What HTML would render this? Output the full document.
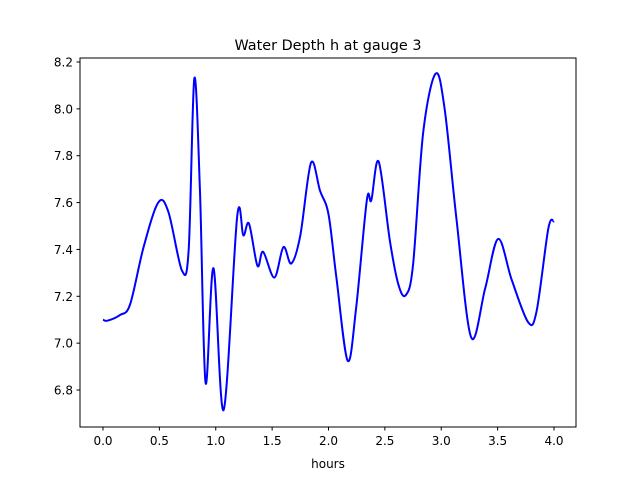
<!DOCTYPE html>
<html><head><meta charset="utf-8"><style>
body{margin:0;background:#fff;font-family:"Liberation Sans","DejaVu Sans",sans-serif;}
svg text{font-family:"DejaVu Sans","Liberation Sans",sans-serif;}
</style></head><body>
<svg id="chart" width="640" height="480" xmlns="http://www.w3.org/2000/svg">
<rect width="640" height="480" fill="#fff"/>
<text x="328" y="50" font-size="14.4" text-anchor="middle">Water Depth h at gauge 3</text>
<g id="xt"></g><g id="yt"></g>
<path id="line" fill="none" stroke="#0000ff" stroke-width="2" stroke-linejoin="round"/>
<rect x="80" y="58" width="496" height="369" fill="none" stroke="#000" stroke-width="1"/>
<text x="328" y="468" font-size="12" text-anchor="middle">hours</text>
</svg>
<script>
const hours=[0,0.04,0.15,0.24,0.36,0.49,0.58,0.70,0.76,0.81,0.86,0.91,0.98,1.07,1.19,1.245,1.295,1.37,1.42,1.52,1.60,1.67,1.75,1.845,1.925,2.0,2.07,2.17,2.245,2.34,2.38,2.445,2.545,2.62,2.685,2.75,2.84,2.95,3.03,3.135,3.265,3.39,3.505,3.625,3.77,3.845,3.95,4.0];
const depth=[7.10,7.096,7.12,7.165,7.41,7.60,7.56,7.31,7.40,8.13,7.65,6.83,7.32,6.715,7.54,7.46,7.51,7.33,7.39,7.28,7.41,7.34,7.46,7.77,7.65,7.55,7.28,6.925,7.15,7.61,7.61,7.775,7.435,7.25,7.205,7.335,7.90,8.15,8.00,7.53,7.025,7.235,7.445,7.27,7.09,7.135,7.49,7.52];
const xTicks=[0,0.5,1.0,1.5,2.0,2.5,3.0,3.5,4.0];
const yTicks=[6.8,7.0,7.2,7.4,7.6,7.8,8.0,8.2];
const X=v=>103+v*112.75, Y=v=>62+(8.2-v)*234.3;
const NS="http://www.w3.org/2000/svg";
const xt=document.getElementById('xt'), yt=document.getElementById('yt');
xTicks.forEach(t=>{
 const l=document.createElementNS(NS,'line');
 
 
 l.setAttribute('x1',X(t));l.setAttribute('x2',X(t));l.setAttribute('y1',427);l.setAttribute('y2',430.5);l.setAttribute('stroke','#000');
 xt.appendChild(l);
 const s=document.createElementNS(NS,'text');
 
 
 s.setAttribute('x',X(t));s.setAttribute('y',445);s.setAttribute('font-size','12');s.setAttribute('text-anchor','middle');
 s.textContent=t.toFixed(1);xt.appendChild(s);
});
yTicks.forEach(t=>{
 const l=document.createElementNS(NS,'line');
 
 
 l.setAttribute('x1',76.5);l.setAttribute('x2',80);l.setAttribute('y1',Y(t));l.setAttribute('y2',Y(t));l.setAttribute('stroke','#000');
 yt.appendChild(l);
 const s=document.createElementNS(NS,'text');
 
 
 s.setAttribute('x',73);s.setAttribute('y',Y(t)+4.5);s.setAttribute('font-size','12');s.setAttribute('text-anchor','end');
 s.textContent=t.toFixed(1);yt.appendChild(s);
});
const P=hours.map((h,i)=>[X(h),Y(depth[i])]);
let d='M'+P[0][0]+','+P[0][1];
for(let i=0;i<P.length-1;i++){
 const p0=P[Math.max(0,i-1)],p1=P[i],p2=P[i+1],p3=P[Math.min(P.length-1,i+2)];
 const c1=[p1[0]+(p2[0]-p0[0])/6,p1[1]+(p2[1]-p0[1])/6];
 const c2=[p2[0]-(p3[0]-p1[0])/6,p2[1]-(p3[1]-p1[1])/6];
 d+=' C'+c1+' '+c2+' '+p2;
}
document.getElementById('line').setAttribute('d',d);
</script>
</body></html>
